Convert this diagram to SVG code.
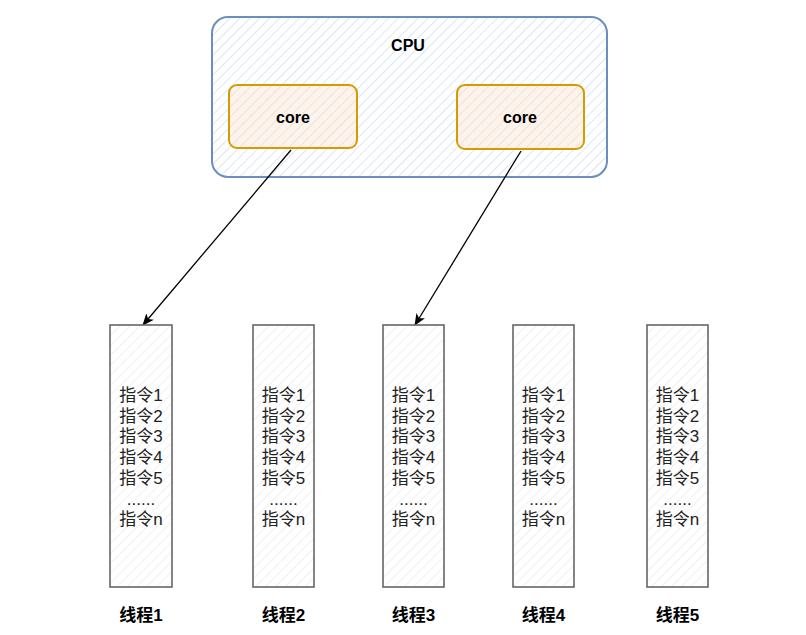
<svg xmlns="http://www.w3.org/2000/svg" width="806" height="635" viewBox="0 0 806 635">
<style>
.t{font-family:"Liberation Sans","Noto Sans CJK SC",sans-serif;font-size:17px;fill:#222;text-anchor:middle}
.c{font-size:16px}
.b{font-weight:bold;fill:#000}
.cpu{fill:url(#hb);stroke:#6c8ebf;stroke-width:2}
.core{fill:url(#ho);stroke:#d79b00;stroke-width:2}
.th{fill:url(#hg);stroke:#666;stroke-width:1.6}
.edge{stroke:#000;stroke-width:1.3;fill:none;marker-end:url(#arr)}
</style>
<defs>
<pattern id="hb" width="7" height="7" patternUnits="userSpaceOnUse" patternTransform="rotate(45)">
<rect width="7" height="7" fill="#fff"/><line x1="0" y1="0" x2="0" y2="7" stroke="#c2d7f2" stroke-width="1.2"/>
</pattern>
<pattern id="ho" width="7" height="7" patternUnits="userSpaceOnUse" patternTransform="rotate(45)">
<rect width="7" height="7" fill="#fbf3ee"/><line x1="0" y1="0" x2="0" y2="7" stroke="#f9d3b3" stroke-width="1.2"/>
</pattern>
<pattern id="hg" width="7" height="7" patternUnits="userSpaceOnUse" patternTransform="rotate(45)">
<rect width="7" height="7" fill="#fff"/><line x1="0" y1="0" x2="0" y2="7" stroke="#e8e8e8" stroke-width="1.2"/>
</pattern>
<marker id="arr" viewBox="0 0 12 10" refX="11" refY="5" markerWidth="12" markerHeight="10" markerUnits="userSpaceOnUse" orient="auto">
<path d="M0,0 L12,5 L0,10 L3,5 Z" fill="#000"/>
</marker>
</defs>
<g id="cpu"><rect class="cpu" x="212" y="17" width="395" height="160" rx="16"/><text class="t c b" x="408" y="51">CPU</text></g>
<g id="core1"><rect class="core" x="229" y="85" width="128" height="63" rx="8"/><text class="t c b" x="293" y="123">core</text></g>
<g id="core2"><rect class="core" x="457" y="85" width="127" height="64" rx="8"/><text class="t c b" x="520" y="123">core</text></g>
<g id="connectors">
<line class="edge" x1="291" y1="150" x2="143" y2="325"/>
<line class="edge" x1="521" y1="151" x2="415" y2="325"/>
</g>
<g id="thread1"><rect class="th" x="110" y="325" width="62" height="262"/>
<text class="t" x="141" y="401">指令1</text><text class="t" x="141" y="421.7">指令2</text><text class="t" x="141" y="442.4">指令3</text><text class="t" x="141" y="463.1">指令4</text><text class="t" x="141" y="483.8">指令5</text><text class="t" x="141" y="504.5">......</text><text class="t" x="141" y="525.2">指令n</text>
<text class="t b" x="141" y="621">线程1</text></g>
<g id="thread2"><rect class="th" x="253" y="325" width="61" height="262"/>
<text class="t" x="283.5" y="401">指令1</text><text class="t" x="283.5" y="421.7">指令2</text><text class="t" x="283.5" y="442.4">指令3</text><text class="t" x="283.5" y="463.1">指令4</text><text class="t" x="283.5" y="483.8">指令5</text><text class="t" x="283.5" y="504.5">......</text><text class="t" x="283.5" y="525.2">指令n</text>
<text class="t b" x="283.5" y="621">线程2</text></g>
<g id="thread3"><rect class="th" x="383" y="325" width="61" height="262"/>
<text class="t" x="413.5" y="401">指令1</text><text class="t" x="413.5" y="421.7">指令2</text><text class="t" x="413.5" y="442.4">指令3</text><text class="t" x="413.5" y="463.1">指令4</text><text class="t" x="413.5" y="483.8">指令5</text><text class="t" x="413.5" y="504.5">......</text><text class="t" x="413.5" y="525.2">指令n</text>
<text class="t b" x="413.5" y="621">线程3</text></g>
<g id="thread4"><rect class="th" x="513" y="325" width="61" height="262"/>
<text class="t" x="543.5" y="401">指令1</text><text class="t" x="543.5" y="421.7">指令2</text><text class="t" x="543.5" y="442.4">指令3</text><text class="t" x="543.5" y="463.1">指令4</text><text class="t" x="543.5" y="483.8">指令5</text><text class="t" x="543.5" y="504.5">......</text><text class="t" x="543.5" y="525.2">指令n</text>
<text class="t b" x="543.5" y="621">线程4</text></g>
<g id="thread5"><rect class="th" x="647" y="325" width="61" height="262"/>
<text class="t" x="677.5" y="401">指令1</text><text class="t" x="677.5" y="421.7">指令2</text><text class="t" x="677.5" y="442.4">指令3</text><text class="t" x="677.5" y="463.1">指令4</text><text class="t" x="677.5" y="483.8">指令5</text><text class="t" x="677.5" y="504.5">......</text><text class="t" x="677.5" y="525.2">指令n</text>
<text class="t b" x="677.5" y="621">线程5</text></g>
</svg>
